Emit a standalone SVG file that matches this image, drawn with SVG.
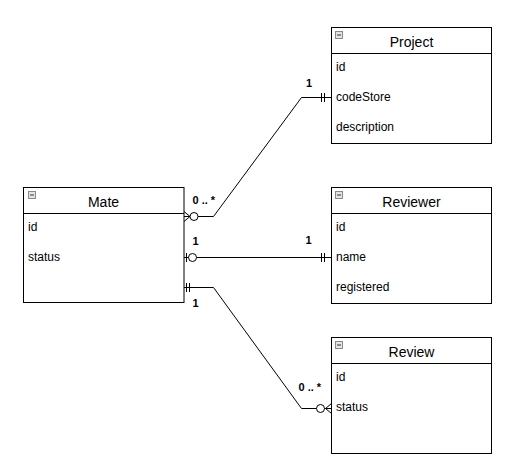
<svg xmlns="http://www.w3.org/2000/svg" width="512" height="471" viewBox="0 0 512 471">
<defs>
<style>
.box{fill:#fff;stroke:#000;stroke-width:1}
.div{stroke:#000;stroke-width:1}
.title{font-family:"Liberation Sans",Arial,sans-serif;font-size:14px;fill:#000;text-anchor:middle}
.attr{font-family:"Liberation Sans",Arial,sans-serif;font-size:12px;fill:#000}
.lbl{font-family:"Liberation Sans",Arial,sans-serif;font-size:11px;font-weight:bold;fill:#000}
.icon{fill:#e4e4e4;stroke:#8a8a8a;stroke-width:1}
.minus{stroke:#333;stroke-width:1}
.ln{fill:none;stroke:#000;stroke-width:1}
.circ{fill:#fff;stroke:#000;stroke-width:1}
</style>
</defs>
<rect width="512" height="471" fill="#fff"/>
<g id="project">
<rect class="box" x="331.5" y="27.5" width="160" height="116"/>
<line class="div" x1="331.5" y1="53.5" x2="491.5" y2="53.5"/>
<rect class="icon" x="335.5" y="31.5" width="7" height="7"/>
<line class="minus" x1="337" y1="35" x2="341" y2="35"/>
<text class="title" x="411.5" y="46.5">Project</text>
<text class="attr" x="336" y="71">id</text>
<text class="attr" x="336" y="101">codeStore</text>
<text class="attr" x="336" y="131">description</text>
</g>
<g id="mate">
<rect class="box" x="23.5" y="187.5" width="160.5" height="115"/>
<line class="div" x1="23.5" y1="213.5" x2="184" y2="213.5"/>
<rect class="icon" x="28.5" y="191.5" width="7" height="7"/>
<line class="minus" x1="30" y1="195" x2="34" y2="195"/>
<text class="title" x="103.5" y="206.5">Mate</text>
<text class="attr" x="28" y="231">id</text>
<text class="attr" x="28" y="261">status</text>
</g>
<g id="reviewer">
<rect class="box" x="331.5" y="187.5" width="160" height="116"/>
<line class="div" x1="331.5" y1="213.5" x2="491.5" y2="213.5"/>
<rect class="icon" x="335.5" y="191.5" width="7" height="7"/>
<line class="minus" x1="337" y1="195" x2="341" y2="195"/>
<text class="title" x="411.5" y="206.5">Reviewer</text>
<text class="attr" x="336" y="231">id</text>
<text class="attr" x="336" y="261">name</text>
<text class="attr" x="336" y="291">registered</text>
</g>
<g id="review">
<rect class="box" x="331.5" y="337.5" width="160" height="116"/>
<line class="div" x1="331.5" y1="363.5" x2="491.5" y2="363.5"/>
<rect class="icon" x="335.5" y="341.5" width="7" height="7"/>
<line class="minus" x1="337" y1="345" x2="341" y2="345"/>
<text class="title" x="411.5" y="356.5">Review</text>
<text class="attr" x="336" y="381">id</text>
<text class="attr" x="336" y="411">status</text>
</g>
<g id="connectors">
<!-- Mate - Project -->
<path class="ln" d="M184 216.5 H213.5 L301.5 97.5 H331.5"/>
<path class="ln" d="M184 211.5 L190 216.5 L184 221.5"/>
<circle class="circ" cx="194" cy="216.5" r="4"/>
<line class="ln" x1="321.5" y1="93" x2="321.5" y2="102"/>
<line class="ln" x1="324.5" y1="93" x2="324.5" y2="102"/>
<text class="lbl" x="192.5" y="204">0 .. *</text>
<text class="lbl" x="306" y="87">1</text>
<!-- Mate - Reviewer -->
<path class="ln" d="M184 257.5 H331.5"/>
<line class="ln" x1="186.5" y1="253" x2="186.5" y2="262"/>
<circle class="circ" cx="192.5" cy="257.5" r="4"/>
<line class="ln" x1="321.5" y1="253" x2="321.5" y2="262"/>
<line class="ln" x1="324.5" y1="253" x2="324.5" y2="262"/>
<text class="lbl" x="192.5" y="245">1</text>
<text class="lbl" x="305.5" y="244">1</text>
<!-- Mate - Review -->
<path class="ln" d="M184 287.5 H213.5 L301.5 408.5 H331.5"/>
<line class="ln" x1="186.5" y1="283" x2="186.5" y2="292"/>
<line class="ln" x1="189.5" y1="283" x2="189.5" y2="292"/>
<path class="ln" d="M331.5 403.5 L325.5 408.5 L331.5 413.5"/>
<circle class="circ" cx="320.5" cy="408.5" r="4"/>
<text class="lbl" x="192.5" y="307">1</text>
<text class="lbl" x="298.5" y="391">0 .. *</text>
</g>
</svg>
